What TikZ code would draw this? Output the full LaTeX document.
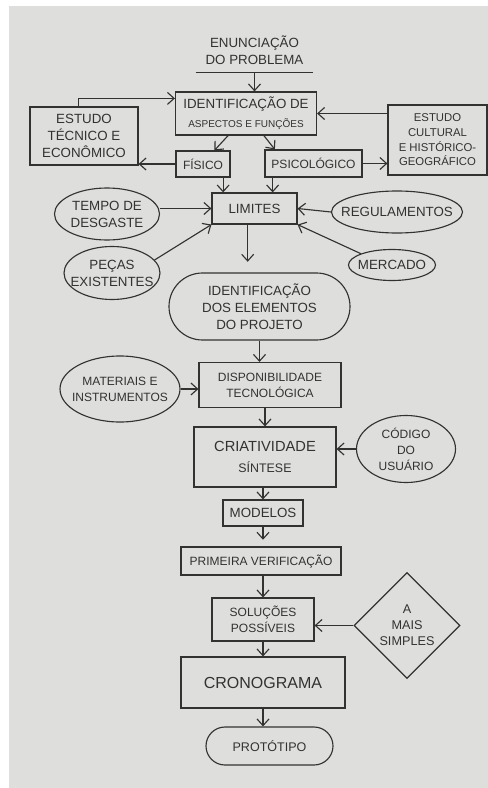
\documentclass[tikz,border=0pt]{standalone}
\usepackage{fontspec}
\setmainfont{Liberation Sans}
\usepackage{tikz}
\usetikzlibrary{arrows.meta}
\usetikzlibrary{shapes.geometric}
\usetikzlibrary{shapes.misc}

\definecolor{papel}{RGB}{222,222,220}
\definecolor{tinta}{RGB}{50,50,48}

\begin{document}
\begin{tikzpicture}[x=0.75pt,y=0.75pt,yscale=-1,xscale=1,
  caixa/.style={draw=tinta,line width=0.85pt,rectangle,inner sep=0pt,text=tinta,align=center,font=\fontsize{9}{12}\selectfont},
  bolha/.style={draw=tinta,line width=0.85pt,ellipse,inner xsep=-9pt,inner ysep=0pt,text=tinta,align=center,font=\fontsize{10}{12.75}\selectfont},
  capsula/.style={draw=tinta,line width=0.85pt,rounded rectangle,inner sep=0pt,text=tinta,align=center,font=\fontsize{10}{12.75}\selectfont},
  losango/.style={draw=tinta,line width=0.85pt,diamond,aspect=1,inner sep=0pt,text=tinta,align=center,font=\fontsize{9.5}{12}\selectfont},
  seta/.style={draw=tinta,line width=0.85pt,-{Straight Barb[length=5pt,width=9pt]}}
]
\useasboundingbox (0,0) rectangle (488,788);
\fill [white] (0,0) rectangle (488,788);
\fill [papel] (9,6) rectangle (488,788);

\node [text=tinta,align=center,inner sep=0pt,minimum width=87.75pt,minimum height=33pt,font=\fontsize{10}{12.5}\selectfont] (enun) at (254.5,50) {ENUNCIAÇÃO\\DO PROBLEMA};
\node [caixa,minimum width=105.75pt,minimum height=32.25pt,font=\fontsize{10}{12.5}\selectfont] (ident) at (246,113.5) {IDENTIFICAÇÃO DE\\[1.5pt]{\fontsize{7.5}{9}\selectfont ASPECTOS E FUNÇÕES}};
\node [caixa,minimum width=81pt,minimum height=43.5pt,font=\fontsize{10}{13}\selectfont] (tecnico) at (84,136) {ESTUDO\\TÉCNICO E\\ECONÔMICO};
\node [caixa,minimum width=74.25pt,minimum height=52.5pt,font=\fontsize{8.5}{11}\selectfont] (cultural) at (437.5,140) {ESTUDO\\CULTURAL\\E HISTÓRICO-\\GEOGRÁFICO};
\node [caixa,minimum width=40.5pt,minimum height=19.5pt] (fisico) at (203,164) {FÍSICO};
\node [caixa,minimum width=72.75pt,minimum height=20.25pt] (psico) at (313.5,163.5) {PSICOLÓGICO};
\node [caixa,minimum width=63.75pt,minimum height=23.25pt,font=\fontsize{10}{12}\selectfont] (limites) at (254.5,208.5) {LIMITES};
\node [bolha,minimum width=78.75pt,minimum height=39pt] (tempo) at (107,214) {TEMPO DE\\DESGASTE};
\node [bolha,minimum width=98.25pt,minimum height=31.5pt] (regul) at (397,212) {REGULAMENTOS};
\node [bolha,minimum width=72pt,minimum height=39.75pt] (pecas) at (112,273) {PEÇAS\\EXISTENTES};
\node [bolha,minimum width=65.25pt,minimum height=23.25pt] (mercado) at (392,265) {MERCADO};
\node [capsula,minimum width=135.75pt,minimum height=50.25pt] (elementos) at (259.5,306.5) {IDENTIFICAÇÃO\\DOS ELEMENTOS\\DO PROJETO};
\node [caixa,minimum width=106.5pt,minimum height=33.75pt] (disp) at (270,385) {DISPONIBILIDADE\\TECNOLÓGICA};
\node [bolha,minimum width=90pt,minimum height=49.5pt,font=\fontsize{9}{12}\selectfont] (materiais) at (120,389) {MATERIAIS E\\INSTRUMENTOS};
\node [caixa,minimum width=106.5pt,minimum height=45pt,font=\fontsize{11}{13}\selectfont] (criat) at (265,457) {CRIATIVIDADE\\[3pt]{\fontsize{9.3}{11}\selectfont SÍNTESE}};
\node [bolha,minimum width=74.25pt,minimum height=50.25pt,font=\fontsize{9}{12}\selectfont] (codigo) at (406,449) {CÓDIGO\\DO\\USUÁRIO};
\node [caixa,minimum width=60pt,minimum height=19.5pt,font=\fontsize{10}{12}\selectfont] (modelos) at (263,513) {MODELOS};
\node [caixa,minimum width=120pt,minimum height=21pt] (primeira) at (261,561) {PRIMEIRA VERIFICAÇÃO};
\node [caixa,minimum width=76.5pt,minimum height=32.25pt] (solucoes) at (263,619.5) {SOLUÇÕES\\POSSÍVEIS};
\node [losango,minimum width=79.5pt,minimum height=79.5pt] (simples) at (407,625.5) {A\\MAIS\\SIMPLES};
\node [caixa,minimum width=123pt,minimum height=38.25pt,font=\fontsize{12}{14}\selectfont] (crono) at (263,682.5) {CRONOGRAMA};
\node [capsula,minimum width=95.25pt,minimum height=28.5pt,font=\fontsize{9.4}{12}\selectfont] (prototipo) at (269.5,746) {PROTÓTIPO};

\draw [tinta,line width=0.85pt] (enun.south west) -- (enun.south east);
\draw [seta] (enun.south) -- (enun.south |- ident.north);
\draw [seta] (tecnico.100) |- (ident.168);
\draw [seta] (cultural.west |- ident.east) -- (ident.east);
\draw [seta] (ident.231) -- (fisico.50);
\draw [seta] (ident.309) -- (psico.160);
\draw [seta] (fisico.west) -- (fisico.west -| tecnico.east);
\draw [seta] (psico.east) -- (psico.east -| cultural.west);
\draw [seta] (fisico.-34) -- (fisico.-34 |- limites.north);
\draw [seta] (psico.199) -- (psico.199 |- limites.north);
\draw [seta] (tempo.east |- limites.west) -- (limites.west);
\draw [seta] (regul.west) -- (limites.east);
\draw [seta] (pecas.17) -- (limites.south west);
\draw [seta] (mercado.160) -- (limites.south east);
\draw [seta,shorten >=8pt] (limites.247) -- (limites.247 |- elementos.north);
\draw [seta] (elementos.south) -- (elementos.south |- disp.north);
\draw [seta] (materiais.east) -- (materiais.east -| disp.west);
\draw [seta] (criat.north |- disp.south) -- (criat.north);
\draw [seta] (codigo.west) -- (codigo.west -| criat.east);
\draw [seta] (modelos.north |- criat.south) -- (modelos.north);
\draw [seta,shorten >=5pt] (modelos.south) -- (modelos.south |- primeira.north);
\draw [seta] (solucoes.north |- primeira.south) -- (solucoes.north);
\draw [seta] (simples.west) -- (simples.west -| solucoes.east);
\draw [seta] (solucoes.south) -- (solucoes.south |- crono.north);
\draw [seta] (crono.south) -- (crono.south |- prototipo.north);

\end{tikzpicture}
\end{document}
